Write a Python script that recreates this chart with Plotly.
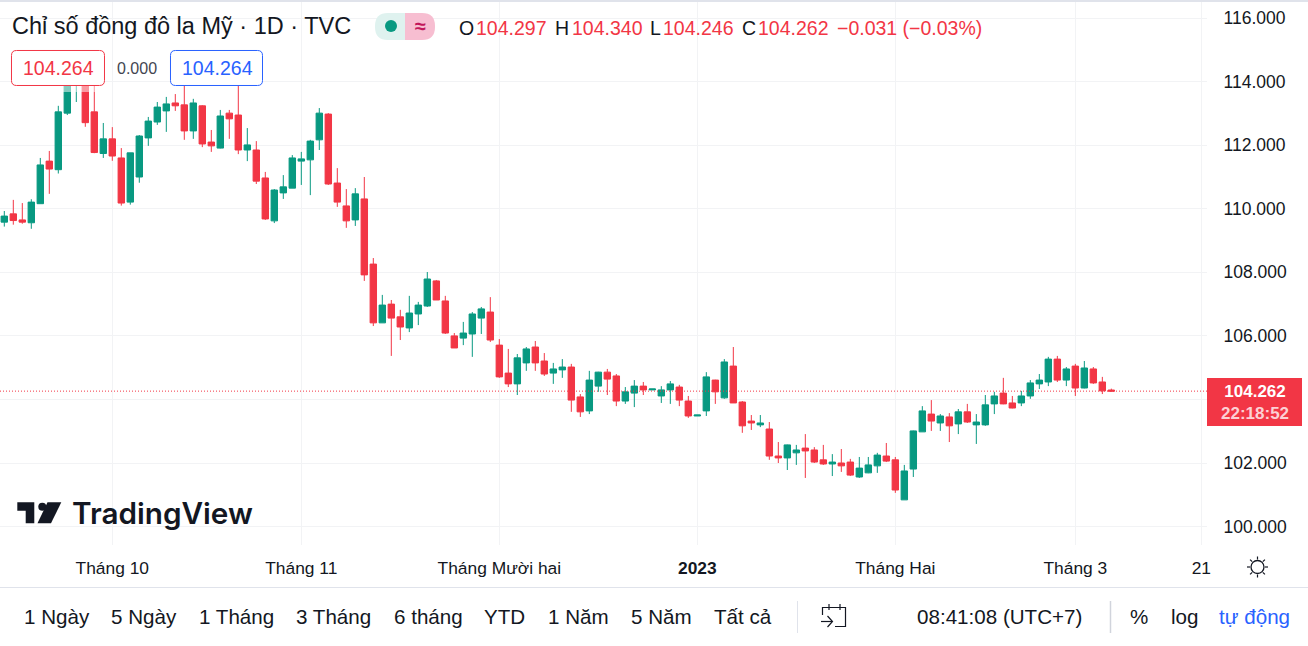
import math
import plotly.graph_objects as go

W, H = 1308, 646
PANE_RIGHT, PANE_BOTTOM = 1207, 545

opens = [109.58, 109.84, 109.65, 109.56, 110.16, 111.50, 111.23, 113.01, 113.95, 114.05,
         113.05, 111.74, 112.20, 111.60, 110.21, 111.00, 112.23, 112.73, 113.08, 113.33,
         113.27, 112.45, 113.24, 112.10, 111.91, 113.01, 112.95, 111.85, 111.85, 110.97,
         109.62, 110.50, 110.65, 111.50, 111.54, 112.17, 112.98, 110.81, 110.09, 109.65,
         110.31, 108.26, 106.41, 107.00, 106.60, 106.25, 106.69, 106.94, 107.73, 107.10,
         106.00, 105.93, 106.06, 106.56, 106.75, 105.71, 104.83, 104.49, 105.15, 105.65,
         105.21, 104.83, 104.93, 105.02, 104.08, 103.64, 104.42, 104.86, 104.74, 103.95,
         104.20, 104.42, 104.30, 104.11, 104.30, 104.39, 103.95, 103.48, 103.64, 104.61,
         104.05, 105.05, 103.92, 103.32, 103.20, 103.07, 102.22, 102.16, 102.32, 102.47,
         102.41, 102.10, 101.97, 102.00, 102.03, 101.56, 101.69, 101.91, 102.22, 102.10,
         100.84, 101.81, 102.98, 103.54, 103.26, 103.45, 103.23, 103.61, 103.20, 103.20,
         103.86, 104.20, 103.89, 103.89, 104.11, 104.49, 104.55, 105.27, 104.61, 105.05,
         104.36, 104.96, 104.55, 104.297]
highs = [109.93, 110.28, 110.18, 110.30, 111.60, 111.82, 113.24, 114.68, 114.60, 114.74,
         113.95, 112.70, 112.57, 111.91, 111.76, 112.32, 112.89, 113.36, 113.52, 113.61,
         114.10, 113.46, 113.26, 112.48, 113.11, 113.11, 114.05, 112.54, 112.13, 111.16,
         110.62, 111.06, 111.69, 111.79, 112.17, 113.17, 113.01, 111.28, 110.62, 110.65,
         111.00, 108.45, 107.29, 107.13, 106.82, 107.26, 107.07, 108.01, 107.76, 107.26,
         106.09, 106.44, 106.75, 106.91, 107.22, 105.90, 105.59, 105.43, 105.65, 105.84,
         105.46, 105.15, 105.27, 105.12, 104.17, 104.90, 104.87, 104.96, 104.80, 104.39,
         104.61, 104.55, 104.33, 104.42, 104.58, 104.46, 104.11, 103.51, 104.86, 104.62,
         105.27, 105.65, 103.95, 103.51, 103.51, 103.29, 102.66, 102.58, 102.57, 102.91,
         102.50, 102.57, 102.28, 102.44, 102.13, 102.19, 102.19, 102.32, 102.63, 102.19,
         101.94, 103.02, 103.79, 103.98, 103.54, 103.57, 103.70, 103.86, 103.54, 104.14,
         104.24, 104.68, 104.11, 104.27, 104.61, 104.80, 105.34, 105.37, 105.02, 105.12,
         105.21, 105.02, 104.71, 104.340]
lows = [109.44, 109.50, 109.53, 109.37, 110.16, 110.47, 111.11, 112.95, 113.36, 112.58,
        111.75, 111.60, 111.51, 110.10, 110.13, 110.82, 111.98, 112.64, 112.42, 113.08,
        112.17, 112.20, 111.94, 111.79, 111.90, 112.20, 111.72, 111.50, 110.78, 109.65,
        109.55, 110.31, 110.65, 110.75, 110.43, 111.85, 110.75, 110.06, 109.40, 109.46,
        107.73, 106.31, 106.41, 105.37, 105.87, 106.12, 106.34, 106.91, 107.13, 106.06,
        105.62, 105.71, 105.34, 106.06, 105.81, 104.68, 104.39, 104.14, 104.90, 104.90,
        104.74, 104.49, 104.68, 103.61, 103.45, 103.54, 104.24, 104.14, 103.79, 103.86,
        103.76, 104.14, 104.30, 103.89, 103.86, 103.79, 103.42, 103.48, 103.48, 103.86,
        104.02, 103.89, 102.95, 103.04, 103.13, 102.10, 102.00, 101.78, 101.94, 101.53,
        102.00, 101.94, 101.59, 101.72, 101.59, 101.53, 101.68, 101.69, 102.03, 101.06,
        100.84, 101.56, 102.98, 103.01, 103.01, 102.66, 102.91, 103.26, 102.60, 103.17,
        103.54, 103.85, 103.72, 103.79, 104.02, 104.33, 104.42, 104.55, 104.42, 104.11,
        104.35, 104.49, 104.17, 104.246]
closes = [109.77, 109.63, 109.58, 110.21, 111.38, 111.25, 113.05, 114.11, 114.10, 112.71,
          111.77, 112.20, 111.66, 110.18, 111.76, 112.29, 112.76, 113.20, 113.30, 113.24,
          112.45, 113.33, 112.04, 111.98, 112.92, 112.83, 111.85, 112.01, 110.87, 109.68,
          110.59, 110.69, 111.60, 111.57, 112.13, 113.01, 110.78, 110.21, 109.62, 110.47,
          107.92, 106.41, 106.97, 106.56, 106.28, 106.72, 106.97, 107.79, 107.13, 106.09,
          105.62, 106.09, 106.69, 106.85, 105.87, 104.71, 104.49, 105.31, 105.59, 105.15,
          104.80, 104.96, 105.02, 103.98, 103.61, 104.61, 104.86, 104.64, 103.95, 104.24,
          104.42, 104.30, 104.33, 104.30, 104.49, 103.98, 103.48, 103.51, 104.71, 104.24,
          105.18, 103.89, 103.17, 103.26, 103.26, 102.22, 102.16, 102.57, 102.41, 102.38,
          102.03, 101.97, 102.03, 101.91, 101.62, 101.84, 101.94, 102.25, 102.06, 101.15,
          101.75, 103.01, 103.64, 103.32, 103.48, 103.17, 103.61, 103.29, 103.29, 103.83,
          104.11, 103.86, 103.73, 104.11, 104.52, 104.61, 105.27, 104.61, 104.96, 104.36,
          104.99, 104.52, 104.27, 104.262]
bar_index = list(range(len(opens)))

price_ticks = [100, 102, 104, 106, 108, 110, 112, 114, 116]
# the 104 label sits behind the last price tag in the original, only its grid line shows
price_labels = ["100.000", "102.000", "", "106.000", "108.000", "110.000", "112.000", "114.000", "116.000"]
month_ticks = [12, 33, 55, 77, 99, 119, 133]
month_labels = ["Tháng 10", "Tháng 11", "Tháng Mười hai", "<b>2023</b>", "Tháng Hai", "Tháng 3", "21"]
last_price = 104.262

RED = "#f23645"
GREEN = "#089981"
BLUE = "#2962ff"
INK = "#131722"
GRID = "#f2f3f5"
EDGE = "#e0e3eb"
FONT = "Liberation Sans"


def px(x):
    return x / W


def py(y):
    return 1 - y / H


def label(x, y, text, size, color=INK, anchor="left", weight=None):
    # annotations carry some padding, pull left aligned text back
    shift = -2 if anchor == "left" else 0
    return dict(x=px(x + shift), y=py(y), xref="paper", yref="paper", text=text, showarrow=False,
                xanchor=anchor, yanchor="middle",
                font=dict(family=FONT, size=size, color=color, weight=weight))


def box(x0, y0, x1, y1, fill, line=None, opacity=1, width=1):
    return dict(type="rect", xref="paper", yref="paper", x0=px(x0), y0=py(y0), x1=px(x1), y1=py(y1),
                fillcolor=fill, opacity=opacity, layer="above",
                line=dict(color=line or "rgba(0,0,0,0)", width=width if line else 0))


def seg(x0, y0, x1, y1, color=INK, width=1.2):
    return dict(type="line", xref="paper", yref="paper", x0=px(x0), y0=py(y0), x1=px(x1), y1=py(y1),
                layer="above", line=dict(color=color, width=width))


def path(points, fill=None, color=None, width=0, close=True):
    d = "M " + " L ".join(f"{px(a):.5f},{py(b):.5f}" for a, b in points) + (" Z" if close else "")
    return dict(type="path", xref="paper", yref="paper", path=d, layer="above",
                fillcolor=fill or "rgba(0,0,0,0)",
                line=dict(color=color or "rgba(0,0,0,0)", width=width))


def rounded(x0, y0, x1, y1, r, left=True, right=True, fill="white", line=None):
    # rounded box, corners are optional so the pill can be built from two halves
    def c(a, b):
        return f"{px(a):.5f},{py(b):.5f}"
    rl = r if left else 0
    rr = r if right else 0
    d = (f"M {c(x0 + rl, y0)} L {c(x1 - rr, y0)} Q {c(x1, y0)} {c(x1, y0 + rr)} "
         f"L {c(x1, y1 - rr)} Q {c(x1, y1)} {c(x1 - rr, y1)} L {c(x0 + rl, y1)} "
         f"Q {c(x0, y1)} {c(x0, y1 - rl)} L {c(x0, y0 + rl)} Q {c(x0, y0)} {c(x0 + rl, y0)} Z")
    return dict(type="path", xref="paper", yref="paper", path=d, layer="above", fillcolor=fill,
                line=dict(color=line or "rgba(0,0,0,0)", width=1 if line else 0))


fig = go.Figure(go.Candlestick(
    x=bar_index, open=opens, high=highs, low=lows, close=closes,
    increasing=dict(line=dict(color=GREEN, width=1), fillcolor=GREEN),
    decreasing=dict(line=dict(color=RED, width=1), fillcolor=RED),
    whiskerwidth=0, hoverinfo="skip",
))

shapes = [
    # current price line
    dict(type="line", xref="x domain", yref="y", x0=0, x1=1, y0=last_price, y1=last_price,
         layer="above", line=dict(color=RED, width=1, dash="1px,2px")),
    box(1207, 378, 1302, 426, RED),
    # fade under the legend
    box(60, 85.7, 95, 92, "white", opacity=0.5),
    # legend value boxes
    rounded(11.5, 50.5, 104.5, 85.5, 5, fill="white", line=RED),
    rounded(170.5, 50.5, 262.5, 85.5, 5, fill="white", line=BLUE),
    # market status pill
    rounded(375, 13, 405, 40, 13, right=False, fill="#dff2ef"),
    rounded(405, 13, 435, 40, 13, left=False, fill="#f7bed1"),
    dict(type="circle", xref="paper", yref="paper", x0=px(385), y0=py(20), x1=px(397), y1=py(32),
         fillcolor=GREEN, line=dict(width=0), layer="above"),
    # logo
    path([(17.3, 502.3), (34.3, 502.3), (34.3, 523.3), (25.7, 523.3), (25.7, 510.7), (17.3, 510.7)], fill=INK),
    dict(type="circle", xref="paper", yref="paper", x0=px(38.3), y0=py(502.7), x1=px(46.3), y1=py(510.7),
         fillcolor=INK, line=dict(width=0), layer="above"),
    path([(47.5, 502.3), (61.3, 502.3), (51, 523.3), (37.5, 523.3)], fill=INK),
    # top band, bottom bar rules
    box(0, 0, W, 2, EDGE),
    seg(0, 587.5, W, 587.5, EDGE, 1),
    seg(797.5, 601, 797.5, 633, EDGE, 1),
    seg(1110.5, 601, 1110.5, 633, "#d1d4dc", 1.5),
    # calendar icon
    path([(822.5, 615), (822.5, 607.5), (845.5, 607.5), (845.5, 626.5), (835, 626.5)], color=INK, width=1.2, close=False),
    seg(829, 604, 829, 610), seg(840, 604, 840, 610),
    seg(821, 621.5, 832, 621.5),
    path([(827.5, 616), (832.5, 621.5), (827.5, 627)], color=INK, width=1.2, close=False),
    # sun icon
    dict(type="circle", xref="paper", yref="paper", x0=px(1251), y0=py(560.5), x1=px(1264), y1=py(573.5),
         fillcolor="rgba(0,0,0,0)", line=dict(color=INK, width=1.3), layer="above"),
]
for k in range(8):
    a = k * math.pi / 4
    shapes.append(seg(1257.5 + 7.5 * math.cos(a), 567 + 7.5 * math.sin(a),
                      1257.5 + 10.5 * math.cos(a), 567 + 10.5 * math.sin(a), width=1.2))

annotations = [
    label(12, 26, "Chỉ số đồng đô la Mỹ · 1D · TVC", 23.5),
    label(420, 26, "≈", 20, "#c2185b", "center", "bold"),
    label(459, 28, "O", 19.5), label(476, 28, "104.297", 19.5, RED),
    label(555, 28, "H", 19.5), label(572, 28, "104.340", 19.5, RED),
    label(650, 28, "L", 19.5), label(663, 28, "104.246", 19.5, RED),
    label(742, 28, "C", 19.5), label(758, 28, "104.262", 19.5, RED),
    label(837, 28, "−0.031 (−0.03%)", 19.5, RED),
    label(58, 68, "104.264", 19.5, RED, "center"),
    label(137, 68, "0.000", 16, "#434651", "center"),
    label(217, 68, "104.264", 19.5, BLUE, "center"),
    label(1255, 402, "104.262<br><span style='color:#fcd0d4'>22:18:52</span>", 17, "white", "center", "bold"),
]
annotations.append(dict(x=px(70), y=py(513), xref="paper", yref="paper", text="TradingView", showarrow=False,
                        xanchor="left", yanchor="middle",
                        font=dict(family="Inter", size=29.7, color=INK, weight=600)))

toolbar = [(24, "1 Ngày"), (111, "5 Ngày"), (199, "1 Tháng"), (296, "3 Tháng"), (394, "6 tháng"),
           (484, "YTD"), (548, "1 Năm"), (631, "5 Năm"), (714, "Tất cả")]
for x, t in toolbar:
    annotations.append(label(x, 616.5, t, 20.6))
annotations.append(label(917, 616.5, "08:41:08 (UTC+7)", 20.6))
annotations.append(label(1130, 616.5, "%", 20.6))
annotations.append(label(1171, 616.5, "log", 20.6))
annotations.append(label(1219, 616.5, "tự động", 20.6, BLUE))

fig.update_layout(
    width=W, height=H, margin=dict(l=0, r=0, t=0, b=0),
    paper_bgcolor="white", plot_bgcolor="white", showlegend=False, dragmode=False,
    boxgap=0.05, boxgroupgap=0.25,
    shapes=shapes, annotations=annotations,
    font=dict(family=FONT, color=INK),
)
fig.update_xaxes(
    domain=[0, PANE_RIGHT / W], range=[-0.478, 133.63], rangeslider_visible=False, automargin=False,
    tickmode="array", tickvals=month_ticks, ticktext=month_labels, tickfont=dict(size=17.4, color=INK),
    showgrid=True, gridcolor=GRID, gridwidth=1, zeroline=False, showline=False,
    ticks="outside", ticklen=7, tickcolor="rgba(0,0,0,0)",
)
fig.update_yaxes(
    domain=[1 - PANE_BOTTOM / H, 1], range=[99.42, 116.57], side="right", automargin=False,
    tickmode="array", tickvals=price_ticks, ticktext=price_labels, tickfont=dict(size=17.5, color=INK),
    showgrid=True, gridcolor=GRID, gridwidth=1, zeroline=False, showline=False,
    ticks="outside", ticklen=12, tickcolor="rgba(0,0,0,0)",
)

fig.write_html("out.html", config={"displayModeBar": False},
               post_script="document.body.style.margin='0';document.body.style.overflow='hidden';")
